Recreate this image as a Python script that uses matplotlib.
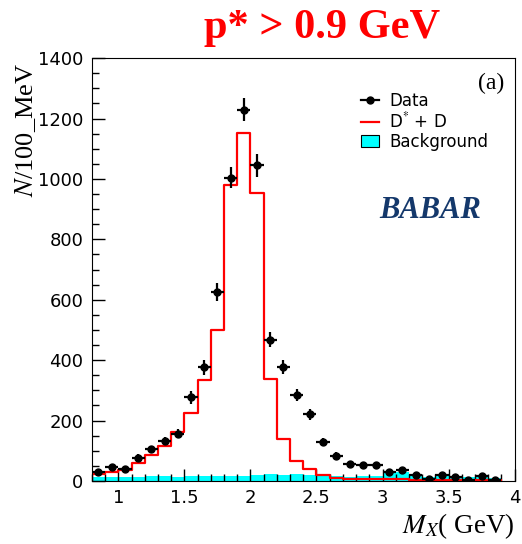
import matplotlib
matplotlib.use("Agg")
import matplotlib.pyplot as plt
import numpy as np
from matplotlib.lines import Line2D
from matplotlib.patches import Patch
from matplotlib.ticker import MultipleLocator

plt.rcParams['mathtext.fontset'] = 'stix'

# bin edges 0.8 .. 3.9 GeV, 100 MeV wide
edges = np.round(np.arange(0.8, 3.95, 0.1), 2)
centers = (edges[:-1] + edges[1:]) / 2

data = [31, 45, 40, 77, 104, 132, 156, 277, 377, 627, 1004, 1230, 1046, 468,
        377, 286, 220, 128, 84, 56, 53, 51, 30, 35, 18, 6, 18, 12, 4, 17, 4]
data_err = [8, 9, 9, 11, 12, 14, 15, 22, 25, 30, 35, 39, 38, 25,
            22, 20, 18, 14, 12, 10, 10, 10, 8, 8, 7, 5, 7, 6, 5, 7, 5]
signal = [24, 28, 36, 58, 86, 114, 161, 226, 335, 500, 979, 1151, 955, 337,
          140, 66, 38, 18, 11, 7, 6, 5, 5, 5, 3, 3, 2, 2, 2, 2, 2]
background = [12, 12, 13, 13, 15, 15, 14, 15, 15, 17, 17, 16, 20, 24,
              21, 22, 18, 18, 16, 14, 16, 17, 30, 31, 18, 12, 19, 17, 12, 18, 11]

fig = plt.figure(figsize=(5.22, 5.44), dpi=100)
ax = fig.add_axes([0.176, 0.116, 0.810, 0.777])

bg_y = np.append(background, background[-1])
ax.fill_between(edges, 0, bg_y, step='post', color='#00ffff', lw=0, zorder=1)

sig_x = np.concatenate([[edges[0]], edges, [edges[-1]]])
sig_y = np.concatenate([[0], signal, [signal[-1], 0]])
ax.step(sig_x, sig_y, where='post', color='red', lw=1.6, zorder=2)

ax.errorbar(centers, data, yerr=data_err, xerr=0.05, fmt='o', color='black',
            ms=5, elinewidth=1.6, capsize=0, zorder=3)

ax.set_xlim(0.8, 4.0)
ax.set_ylim(0, 1400)
ax.xaxis.set_major_locator(MultipleLocator(0.5))
ax.xaxis.set_minor_locator(MultipleLocator(0.1))
ax.yaxis.set_major_locator(MultipleLocator(200))
ax.yaxis.set_minor_locator(MultipleLocator(50))
ax.tick_params(which='both', direction='in', top=False, right=False,
               labelsize=13, width=1, labelfontfamily='DejaVu Sans')
ax.tick_params(which='major', length=9, pad=6)
ax.tick_params(which='minor', length=5)
ax.xaxis.set_major_formatter(matplotlib.ticker.FuncFormatter(lambda v, p: f"{v:g}"))

ax.set_ylabel("$N$/100_MeV", family='Liberation Serif', fontsize=19)
ax.yaxis.set_label_coords(-0.127, 0.99)
ax.yaxis.label.set_ha('right')
ax.set_xlabel("$M_X$( GeV)", family='Liberation Serif', fontsize=19.5)
ax.xaxis.set_label_coords(1.0, -0.072)
ax.xaxis.label.set_ha('right')

fig.text(0.617, 0.93, "p* > 0.9 GeV", color='red', fontsize=30.5,
         family='Liberation Serif', weight='bold', ha='center', va='baseline')
ax.text(0.975, 0.94, "(a)", transform=ax.transAxes, ha='right', va='center',
        family='Liberation Serif', fontsize=17)
ax.text(0.80, 0.64, "BABAR", transform=ax.transAxes, ha='center', va='center',
        family='Liberation Serif', fontsize=22, weight='bold', style='italic',
        color='#14386b')

handles = [Line2D([], [], color='black', marker='o', ms=5, lw=1.6),
           Line2D([], [], color='red', lw=1.6),
           Patch(facecolor='#00ffff', edgecolor='black', lw=0.8)]
labels = ["Data", "D$^{*}$ + D", "Background"]
ax.legend(handles, labels, loc='upper left', bbox_to_anchor=(0.6, 0.955),
          frameon=False, handlelength=1.1, handletextpad=0.6,
          labelspacing=0.08, prop={'family': 'DejaVu Sans', 'size': 12})

fig.savefig("out.png", dpi=100)
